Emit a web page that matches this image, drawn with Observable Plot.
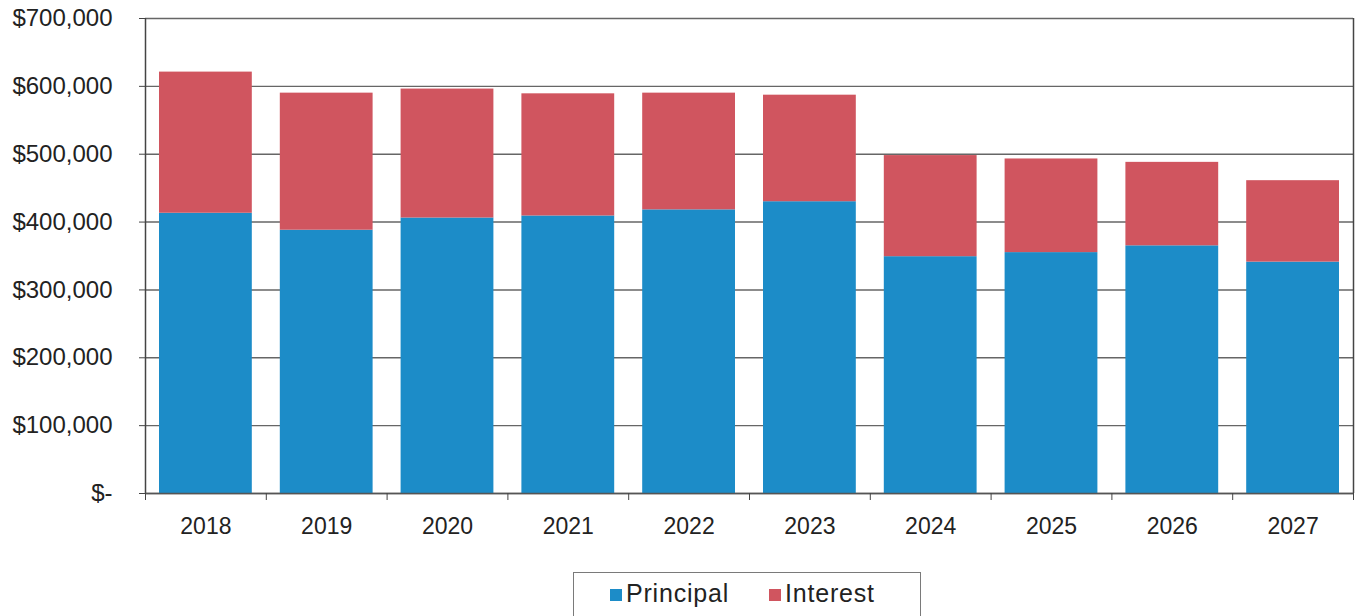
<!DOCTYPE html>
<html>
<head>
<meta charset="utf-8">
<script src="https://cdn.jsdelivr.net/npm/d3@7"></script>
<script src="https://cdn.jsdelivr.net/npm/@observablehq/plot@0.6"></script>
<style>
  html, body { margin: 0; padding: 0; background: #fff; overflow: hidden; }
  #chart { position: relative; width: 1360px; height: 616px; font-family: "Liberation Sans", Arial, sans-serif; }
  .legend { position: absolute; left: 573px; top: 572px; width: 348px; height: 60px; border: 1.5px solid #7a7a7a;
            box-sizing: border-box; display: flex; align-items: flex-start; padding: 6px 0 0 36px; font-size: 25px;
            letter-spacing: 0.8px; color: #222; }
  .legend .item { display: flex; align-items: center; margin-right: 40px; }
  .legend .sw { width: 12px; height: 12px; margin-right: 4px; margin-top: 3px; }
</style>
</head>
<body>
<div id="chart"></div>
<script>
const years = ["2018", "2019", "2020", "2021", "2022", "2023", "2024", "2025", "2026", "2027"];
const principal = [413000, 388000, 406000, 409000, 418000, 430000, 349000, 355000, 365000, 341000];
const interest = [208000, 202000, 190000, 180000, 172000, 157000, 149000, 138000, 123000, 120000];
const yTicks = [0, 100000, 200000, 300000, 400000, 500000, 600000, 700000];
const seriesNames = ["Principal", "Interest"];
const seriesColors = ["#1c8cc8", "#d0555f"];

const rows = [];
years.forEach((year, i) => {
  rows.push({i, year, series: "Principal", y1: 0, y2: principal[i]});
  rows.push({i, year, series: "Interest", y1: principal[i], y2: principal[i] + interest[i]});
});

const fmt = d => d === 0 ? "$-" : "$" + d3.format(",")(d);
const boundaries = d3.range(years.length + 1);
const centers = years.map((_, i) => i + 0.5);

const plot = Plot.plot({
  width: 1360,
  height: 560,
  marginLeft: 145,
  marginRight: 7,
  marginTop: 18,
  marginBottom: 67,
  x: {type: "linear", domain: [0, years.length]},
  y: {domain: [0, 700000]},
  color: {domain: seriesNames, range: seriesColors},
  style: {fontFamily: "'Liberation Sans', Arial, sans-serif", color: "#222", background: "white", overflow: "visible"},
  marks: [
    Plot.gridY(yTicks, {stroke: "#666", strokeOpacity: 1, strokeWidth: 1.4}),
    Plot.rect(rows, {x1: d => d.i, x2: d => d.i + 1, y1: "y1", y2: "y2", fill: "series", insetLeft: 14, insetRight: 14}),
    Plot.ruleX([0, years.length], {stroke: "#444", strokeWidth: 1.5}),
    Plot.ruleY([0], {stroke: "#555", strokeWidth: 1.5}),
    Plot.axisY(yTicks, {tickSize: 6, tickPadding: 27, tickFormat: fmt, fontSize: 24, stroke: "#444", label: null}),
    Plot.axisX(boundaries, {tickSize: 7, tickFormat: () => "", stroke: "#444", label: null}),
    Plot.axisX(centers, {tickSize: 0, tickPadding: 24, tickFormat: d => years[Math.floor(d)], fontSize: 23, label: null})
  ]
});

const chart = document.getElementById("chart");
chart.appendChild(plot);

const legend = document.createElement("div");
legend.className = "legend";
seriesNames.forEach((name, k) => {
  const item = document.createElement("div");
  item.className = "item";
  const sw = document.createElement("span");
  sw.className = "sw";
  sw.style.background = seriesColors[k];
  const label = document.createElement("span");
  label.textContent = name;
  item.appendChild(sw);
  item.appendChild(label);
  legend.appendChild(item);
});
chart.appendChild(legend);
</script>
</body>
</html>
